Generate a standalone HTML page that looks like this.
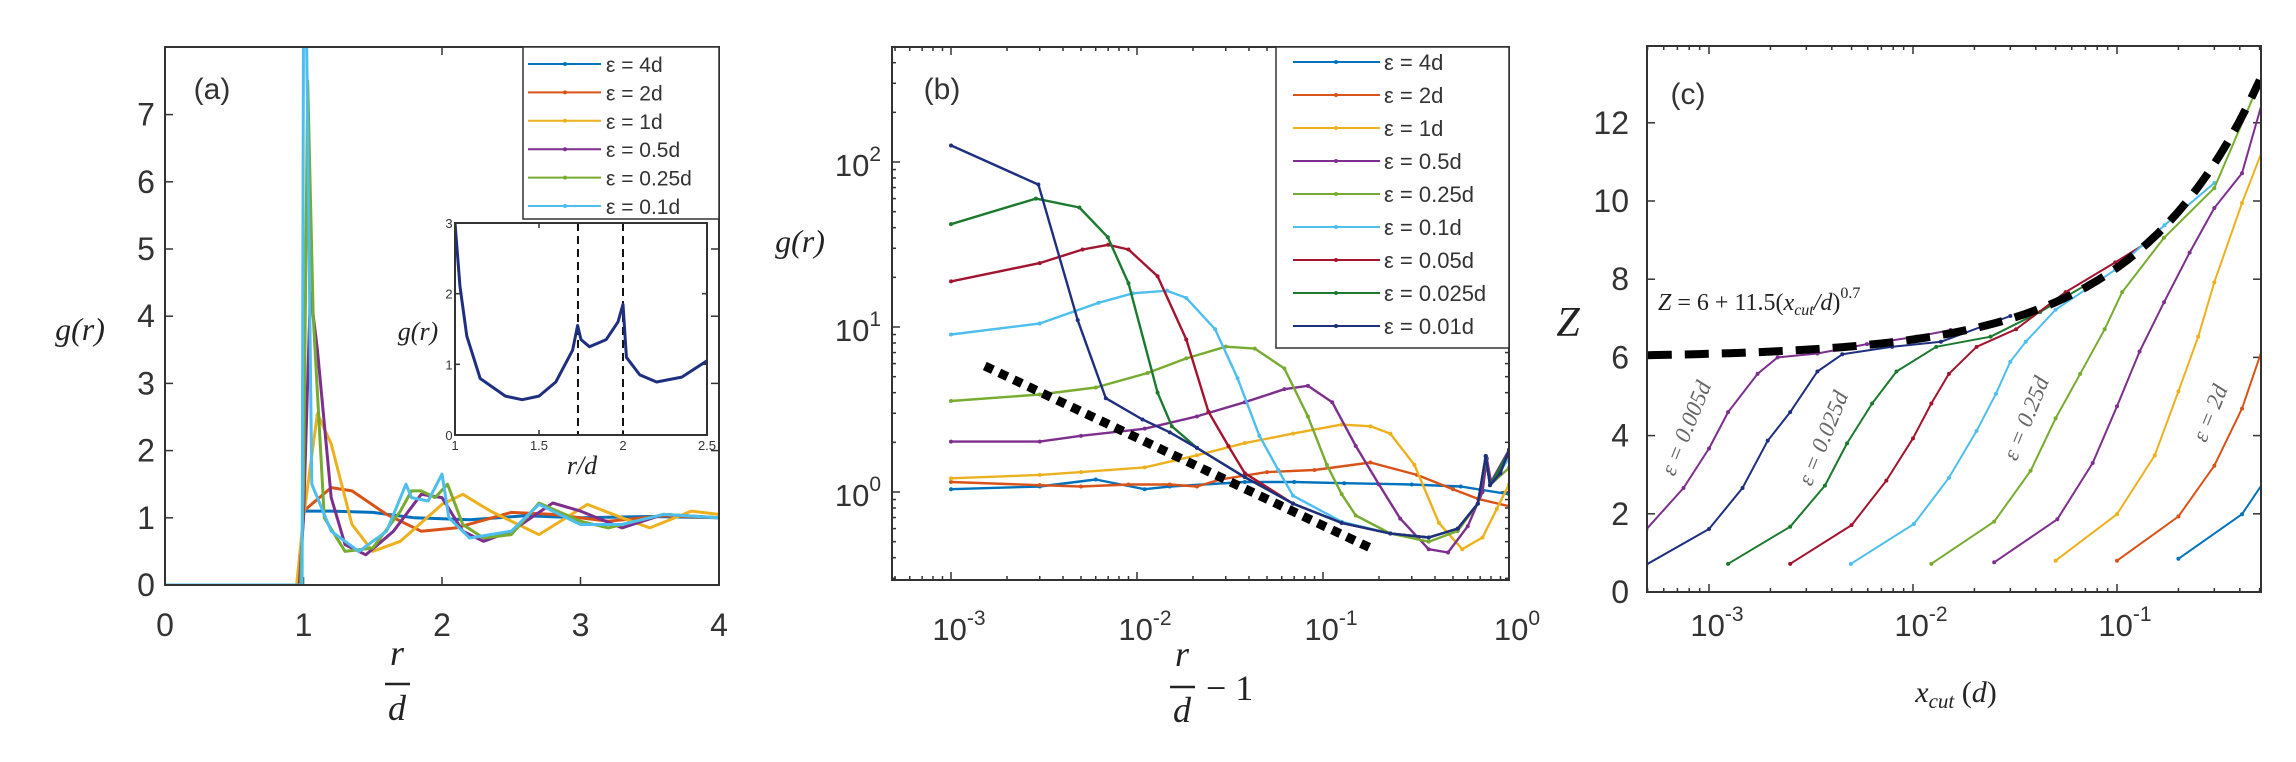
<!DOCTYPE html>
<html><head><meta charset="utf-8"><style>
html,body{margin:0;padding:0;background:#fff;}
svg{display:block;}
.tk{font-family:"Liberation Sans",sans-serif;fill:#333;}
.mt{font-family:"Liberation Serif",serif;font-style:italic;fill:#222;}
</style></head><body>
<svg id="fig" xmlns="http://www.w3.org/2000/svg" width="2296" height="762" viewBox="0 0 2296 762">
<rect width="2296" height="762" fill="#fff"/>
</svg>
<script>
// ---------- Panel (a) data ----------
const aLabels = ["ε = 4d","ε = 2d","ε = 1d","ε = 0.5d","ε = 0.25d","ε = 0.1d"];
const aColors = ["#0072BD","#D95319","#EDB120","#7E2F8E","#77AC30","#4DBEEE"];
const aS4d   = [[0,0],[0.97,0],[1.0,1.1],[1.2,1.1],[1.5,1.08],[1.8,1.0],[2.2,0.97],[2.6,1.03],[3.0,1.0],[3.5,1.02],[4,1.0]];
const aS2d   = [[0,0],[0.97,0],[1.0,1.1],[1.2,1.45],[1.35,1.4],[1.6,1.05],[1.85,0.8],[2.1,0.85],[2.5,1.08],[2.8,1.05],[3.2,0.95],[3.6,1.03],[4,1.0]];
const aS1d   = [[0,0],[0.95,0],[1.0,1.0],[1.1,2.55],[1.2,2.1],[1.35,0.9],[1.5,0.5],[1.7,0.65],[2.0,1.2],[2.15,1.35],[2.35,1.1],[2.7,0.75],[3.05,1.2],[3.3,1.0],[3.5,0.85],[3.8,1.1],[4,1.05]];
const aS05d  = [[0,0],[0.97,0],[1.0,1.0],[1.05,4.35],[1.1,3.5],[1.2,1.3],[1.3,0.6],[1.45,0.45],[1.65,0.8],[1.85,1.35],[2.0,1.3],[2.15,0.8],[2.3,0.65],[2.5,0.8],[2.8,1.22],[3.0,1.1],[3.3,0.85],[3.6,1.05],[4,1.0]];
const aS025d = [[0,0],[0.98,0],[1.0,1.5],[1.03,7.5],[1.07,4.0],[1.15,1.0],[1.3,0.5],[1.5,0.55],[1.7,1.1],[1.78,1.4],[1.85,1.4],[1.95,1.3],[2.04,1.5],[2.15,0.9],[2.3,0.7],[2.5,0.75],[2.7,1.22],[3.0,0.95],[3.2,0.85],[3.6,1.05],[4,1.0]];
const aS01d  = [[0,0],[0.99,0],[1.0,8.5],[1.02,8.5],[1.06,1.5],[1.2,0.8],[1.4,0.5],[1.6,0.8],[1.74,1.5],[1.78,1.3],[1.9,1.25],[2.0,1.65],[2.05,1.0],[2.2,0.7],[2.5,0.8],[2.7,1.2],[3.0,0.9],[3.3,0.9],[3.6,1.05],[4,1.0]];
const aSeries = [aS4d,aS2d,aS1d,aS05d,aS025d,aS01d];
const aXTicks = [0,1,2,3,4];
const aYTicks = [0,1,2,3,4,5,6,7];
const insetSeries = [[1.0,3.0],[1.03,2.1],[1.07,1.4],[1.15,0.8],[1.3,0.55],[1.4,0.5],[1.5,0.55],[1.6,0.75],[1.7,1.2],[1.73,1.55],[1.75,1.35],[1.8,1.25],[1.9,1.35],[1.97,1.6],[2.0,1.85],[2.02,1.1],[2.1,0.85],[2.2,0.75],[2.35,0.82],[2.5,1.05]];
const insetXTicks = [1,1.5,2,2.5];
const insetYTicks = [0,1,2,3];
const insetDashes = [1.732,2.0];
// ---------- Panel (b) data ----------
const bLabels = ["ε = 4d","ε = 2d","ε = 1d","ε = 0.5d","ε = 0.25d","ε = 0.1d","ε = 0.05d","ε = 0.025d","ε = 0.01d"];
const bColors = ["#0072BD","#D95319","#EDB120","#7E2F8E","#77AC30","#4DBEEE","#A2142F","#1B7A2E","#1F2F80"];
const bS4d   = [[1e-3,1.04],[3e-3,1.08],[6e-3,1.19],[1.1e-2,1.04],[1.5e-2,1.08],[3.8e-2,1.15],[7e-2,1.15],[0.13,1.13],[0.3,1.11],[0.55,1.08],[1.0,0.97]];
const bS2d   = [[1e-3,1.15],[3e-3,1.1],[5e-3,1.08],[9e-3,1.11],[1.5e-2,1.11],[2.1e-2,1.08],[2.8e-2,1.19],[5e-2,1.32],[9e-2,1.36],[0.18,1.51],[0.32,1.27],[0.5,1.04],[0.68,0.91],[1.0,0.82]];
const bS1d   = [[1e-3,1.21],[3e-3,1.27],[5e-3,1.32],[1.1e-2,1.41],[2.1e-2,1.67],[3.8e-2,1.98],[6.9e-2,2.26],[0.126,2.56],[0.18,2.5],[0.23,2.26],[0.31,1.46],[0.42,0.65],[0.56,0.45],[0.72,0.53],[0.86,0.79],[1.0,1.11]];
const bS05d  = [[1e-3,2.02],[3e-3,2.02],[5e-3,2.19],[1.1e-2,2.42],[2.1e-2,2.87],[3.8e-2,3.5],[6.2e-2,4.2],[8.3e-2,4.4],[0.112,3.5],[0.15,1.9],[0.2,1.11],[0.26,0.69],[0.37,0.45],[0.47,0.43],[0.6,0.62],[0.72,1.0],[0.76,1.6],[0.8,1.15],[1.0,1.8]];
const bS025d = [[1e-3,3.56],[3e-3,3.9],[6e-3,4.3],[1.14e-2,5.26],[1.84e-2,6.45],[3.0e-2,7.6],[4.3e-2,7.4],[6.2e-2,5.6],[8.3e-2,2.87],[0.105,1.46],[0.126,0.97],[0.15,0.72],[0.23,0.56],[0.37,0.5],[0.53,0.58],[0.68,0.85],[0.75,1.6],[0.79,1.1],[1.0,1.4]];
const bS01d  = [[1e-3,9.0],[3e-3,10.5],[6.2e-3,14],[9.5e-3,16],[1.45e-2,16.6],[1.84e-2,15],[2.63e-2,9.7],[3.47e-2,4.9],[4.55e-2,2.19],[5.75e-2,1.36],[6.9e-2,0.95],[0.126,0.66],[0.23,0.56],[0.37,0.53],[0.53,0.6],[0.68,0.85],[0.75,1.65],[0.79,1.1],[1.0,1.6]];
const bS005d = [[1e-3,18.9],[3e-3,24.4],[5.1e-3,29.5],[7e-3,31.5],[9e-3,29.5],[1.29e-2,20.3],[1.84e-2,8.4],[2.42e-2,3.07],[3.1e-2,1.9],[3.8e-2,1.3],[6.9e-2,0.85],[0.126,0.65],[0.23,0.56],[0.37,0.53],[0.53,0.6],[0.68,0.85],[0.75,1.65],[0.79,1.1],[1.0,1.7]];
const bS0025d= [[1e-3,42],[2.86e-3,60],[4.9e-3,53],[6.97e-3,35],[9e-3,18.4],[1.29e-2,4.0],[1.54e-2,2.5],[2.1e-2,1.85],[3.8e-2,1.23],[6.9e-2,0.85],[0.126,0.65],[0.23,0.56],[0.37,0.53],[0.53,0.6],[0.68,0.85],[0.75,1.65],[0.79,1.1],[1.0,1.75]];
const bS001d = [[1e-3,126],[2.95e-3,73],[4.8e-3,11],[6.8e-3,3.7],[1.07e-2,2.75],[1.5e-2,2.3],[2.1e-2,1.85],[3.8e-2,1.23],[6.9e-2,0.85],[0.126,0.65],[0.23,0.56],[0.37,0.53],[0.53,0.6],[0.68,0.85],[0.75,1.65],[0.79,1.1],[0.9,1.3],[1.0,1.8]];
const bSeries = [bS4d,bS2d,bS1d,bS05d,bS025d,bS01d,bS005d,bS0025d,bS001d];
const bGuide = [[1.52e-3,5.8],[0.183,0.454]];
const bXTickExp = [-3,-2,-1,0];
const bYTickExp = [0,1,2];
// ---------- Panel (c) data ----------
const cColors = ["#7E2F8E","#1F2F80","#1B7A2E","#A2142F","#4DBEEE","#77AC30","#7E2F8E","#EDB120","#D95319","#0072BD"];
const cS0005d = [[4.93e-4,1.6],[7.5e-4,2.66],[1e-3,3.67],[1.24e-3,4.6],[1.73e-3,5.58],[2.17e-3,6.0],[3.4e-3,6.1],[5.95e-3,6.34],[1.04e-2,6.53],[1.53e-2,6.7]];
const cS001d  = [[4.93e-4,0.7],[1e-3,1.61],[1.46e-3,2.66],[1.94e-3,3.87],[2.5e-3,4.6],[3.4e-3,5.64],[4.5e-3,6.08],[7.9e-3,6.27],[1.37e-2,6.4],[3.0e-2,7.06]];
const cS0025d = [[1.24e-3,0.72],[2.5e-3,1.67],[3.7e-3,2.72],[4.75e-3,3.8],[6.3e-3,4.82],[8.3e-3,5.64],[1.3e-2,6.27],[2.4e-2,6.53],[4.2e-2,7.16],[7.4e-2,7.92]];
const cS005d  = [[2.5e-3,0.72],[5e-3,1.71],[7.4e-3,2.85],[1.0e-2,3.93],[1.23e-2,4.82],[1.5e-2,5.58],[2.05e-2,6.27],[3.2e-2,6.72],[5.6e-2,7.67],[9.8e-2,8.43],[0.153,9.06]];
const cS01d   = [[4.96e-3,0.72],[1.01e-2,1.74],[1.5e-2,2.92],[2.05e-2,4.12],[2.55e-2,5.07],[3.0e-2,5.89],[3.57e-2,6.4],[5.0e-2,7.22],[9.8e-2,8.24],[0.171,9.38],[0.30,10.46]];
const cS025d  = [[1.23e-2,0.72],[2.5e-2,1.8],[3.77e-2,3.1],[5e-2,4.44],[6.6e-2,5.58],[8.7e-2,6.72],[0.106,7.67],[0.17,9.06],[0.30,10.33],[0.52,13.25]];
const cS05d   = [[2.5e-2,0.76],[5.1e-2,1.86],[7.6e-2,3.3],[0.1,4.75],[0.129,6.15],[0.17,7.41],[0.227,8.68],[0.30,9.82],[0.41,10.71],[0.52,12.6]];
const cS1d    = [[5e-2,0.8],[0.1,1.99],[0.153,3.49],[0.2,5.13],[0.25,6.53],[0.30,7.92],[0.41,9.95],[0.52,11.34]];
const cS2d    = [[0.1,0.8],[0.2,1.93],[0.3,3.23],[0.41,4.69],[0.52,6.27]];
const cS4d    = [[0.2,0.85],[0.41,1.99],[0.52,2.79]];
const cSeries = [cS0005d,cS001d,cS0025d,cS005d,cS01d,cS025d,cS05d,cS1d,cS2d,cS4d];
const cFitA = 6, cFitB = 11.5, cFitP = 0.7;
const cXTickExp = [-3,-2,-1];
const cYTicks = [0,2,4,6,8,10,12];

// ---------- scales ----------
const A={l:165,r:719,t:47,b:585};
const xa=v=>A.l+v*(A.r-A.l)/4;
const ya=v=>A.b-v*67.2;
const I={l:455,r:707,t:223,b:435};
const xi=v=>I.l+(v-1)*(I.r-I.l)/1.5;
const yi=v=>I.b-v*(I.b-I.t)/3;
const B={l:892,r:1509,t:47,b:580};
const xb=v=>951+(Math.log10(v)+3)*186;
const yb=v=>492-Math.log10(v)*165;
const C={l:1647,r:2261,t:46,b:592};
const xc=v=>1709+(Math.log10(v)+3)*204;
const yc=v=>C.b-v*39.1;

const NS='http://www.w3.org/2000/svg';
const svg=document.getElementById('fig');
function mk(tag,attrs,parent){const e=document.createElementNS(NS,tag);for(const k in attrs)e.setAttribute(k,attrs[k]);(parent||svg).appendChild(e);return e;}
function pathD(pts,fx,fy){return pts.map((p,i)=>(i?'L':'M')+fx(p[0]).toFixed(1)+','+fy(p[1]).toFixed(1)).join(' ');}
const defs=mk('defs',{});
function clip(id,R){const c=mk('clipPath',{id:id},defs);mk('rect',{x:R.l,y:R.t,width:R.r-R.l,height:R.b-R.t},c);}
clip('ca',A);clip('ci',I);clip('cb',B);clip('cc',C);

function box(R,name){const r=mk('rect',{x:R.l,y:R.t,width:R.r-R.l,height:R.b-R.t,fill:'none',stroke:'#333','stroke-width':2});

}
function tickX(R,x,len){mk('line',{x1:x,y1:R.b,x2:x,y2:R.b-len,stroke:'#333','stroke-width':1.5});mk('line',{x1:x,y1:R.t,x2:x,y2:R.t+len,stroke:'#333','stroke-width':1.5});}
function tickY(R,y,len){mk('line',{x1:R.l,y1:y,x2:R.l+len,y2:y,stroke:'#333','stroke-width':1.5});mk('line',{x1:R.r,y1:y,x2:R.r-len,y2:y,stroke:'#333','stroke-width':1.5});}
function txt(x,y,s,cls,size,anchor,name){const t=mk('text',{x:x,y:y,'class':cls,'font-size':size,'text-anchor':anchor||'middle'});t.textContent=s;


return t;}
function pow10(x,y,e,name){const t=mk('text',{x:x,y:y,'class':'tk','font-size':31,'text-anchor':'middle'});


const a=mk('tspan',{},t);a.textContent='10';const b=mk('tspan',{dy:-15,'font-size':21},t);b.textContent=String(e);}
function series(pts,fx,fy,color,w,clipId,name,dots){const g=mk('g',{'clip-path':'url(#'+clipId+')'});


mk('path',{d:pathD(pts,fx,fy),fill:'none',stroke:color,'stroke-width':w,'stroke-linejoin':'round'},g);
if(dots)pts.forEach(p=>mk('circle',{cx:fx(p[0]),cy:fy(p[1]),r:2,fill:color},g));}

// ===== Panel (a) =====
aXTicks.forEach(v=>{tickX(A,xa(v),8);txt(xa(v),636,String(v),'tk',32,'middle','x-tick-a-'+v);});
aYTicks.forEach(v=>{tickY(A,ya(v),8);txt(146,ya(v)+11,String(v),'tk',32,'middle','y-tick-a-'+v);});
aSeries.forEach((s,i)=>series(s,xa,ya,aColors[i],3,'ca','series-a-'+i,false));
box(A,'axes-a');
txt(212,99,'(a)','tk',30,'middle','panel-label-a');
txt(80,340,'g(r)','mt',32,'middle','y-axis-title-a');
txt(397,665,'r','mt',36,'middle','x-axis-title-a-num');
mk('line',{x1:385,y1:684,x2:410,y2:684,stroke:'#222','stroke-width':2.5});
txt(397,720,'d','mt',36,'middle','x-axis-title-a-den');
// legend a
const lga=mk('rect',{x:523,y:47,width:196,height:172,fill:'#fff',stroke:'#333','stroke-width':1.5});


aLabels.forEach((l,i)=>{const y=64+i*28.4;mk('line',{x1:528,y1:y,x2:601,y2:y,stroke:aColors[i],'stroke-width':2});mk('circle',{cx:565,cy:y,r:2,fill:aColors[i]});
txt(606,y+8,l,'tk',21,'start','legend-entry-a-'+i);});
// inset
const ib=mk('rect',{x:I.l,y:I.t,width:I.r-I.l,height:I.b-I.t,fill:'#fff'});


insetXTicks.forEach(v=>{tickX(I,xi(v),5);txt(xi(v),450,String(v),'tk',13,'middle','inset-x-tick-'+v);});
insetYTicks.forEach(v=>{tickY(I,yi(v),5);txt(449,yi(v)+5,String(v),'tk',13,'middle','inset-y-tick-'+v);});
insetDashes.forEach((v,i)=>{const d=mk('line',{x1:xi(v),y1:I.t,x2:xi(v),y2:I.b,stroke:'#111','stroke-width':2,'stroke-dasharray':'8,5'});

});
series(insetSeries,xi,yi,'#1F2F80',3,'ci','inset-series',false);
box(I,'inset-axes');
txt(582,474,'r/d','mt',26,'middle','inset-x-title');
txt(418,340,'g(r)','mt',26,'middle','inset-y-title');

// ===== Panel (b) =====
for(let e=-4;e<=0;e++){for(let m=1;m<10;m++){const v=m*Math.pow(10,e);const x=xb(v);if(x<B.l||x>B.r)continue;tickX(B,x,m===1?8:4);}}
for(let e=-1;e<=2;e++){for(let m=1;m<10;m++){const v=m*Math.pow(10,e);const y=yb(v);if(y<B.t||y>B.b)continue;tickY(B,y,m===1?8:4);}}
bXTickExp.forEach(e=>pow10(xb(Math.pow(10,e))+8,640,e,'x-tick-b-'+e));
bYTickExp.forEach(e=>pow10(B.l-34,yb(Math.pow(10,e))+14,e,'y-tick-b-'+e));
bSeries.forEach((s,i)=>series(s,xb,yb,bColors[i],2.4,'cb','series-b-'+i,true));
const gl=mk('path',{d:pathD(bGuide,xb,yb),stroke:'#000','stroke-width':9,'stroke-dasharray':'9,7',fill:'none'});


box(B,'axes-b');
txt(942,99,'(b)','tk',30,'middle','panel-label-b');
txt(800,252,'g(r)','mt',32,'middle','y-axis-title-b');
txt(1182,666,'r','mt',36,'middle','x-axis-title-b-num');
mk('line',{x1:1170,y1:687,x2:1195,y2:687,stroke:'#222','stroke-width':2.5});
txt(1182,722,'d','mt',36,'middle','x-axis-title-b-den');
const mn=txt(1206,700,'− 1','mt',36,'start','x-axis-title-b-minus');
mn.setAttribute('font-style','normal');
mn.style.fontStyle='normal';
const lgb=mk('rect',{x:1276,y:47,width:233,height:301,fill:'#fff',stroke:'#333','stroke-width':1.5});


bLabels.forEach((l,i)=>{const y=62+i*33;mk('line',{x1:1293,y1:y,x2:1380,y2:y,stroke:bColors[i],'stroke-width':2});mk('circle',{cx:1336,cy:y,r:2,fill:bColors[i]});
txt(1384,y+8,l,'tk',22,'start','legend-entry-b-'+i);});

// ===== Panel (c) =====
for(let e=-4;e<=0;e++){for(let m=1;m<10;m++){const v=m*Math.pow(10,e);const x=xc(v);if(x<C.l||x>C.r)continue;tickX(C,x,m===1?8:4);}}
cYTicks.forEach(v=>{tickY(C,yc(v),8);txt(C.l-18,yc(v)+11,String(v),'tk',32,'end','y-tick-c-'+v);});
cXTickExp.forEach(e=>pow10(xc(Math.pow(10,e))+8,636,e,'x-tick-c-'+e));
cSeries.forEach((s,i)=>series(s,xc,yc,cColors[i],2,'cc','series-c-'+i,true));
const fit=[];for(let k=0;k<=60;k++){const lx=-3.3+k*(3.0/60);const x=Math.pow(10,lx);fit.push([x,cFitA+cFitB*Math.pow(x,cFitP)]);}
const fp=mk('path',{d:pathD(fit,xc,yc),stroke:'#000','stroke-width':8,'stroke-dasharray':'24,13',fill:'none','clip-path':'url(#cc)'});


box(C,'axes-c');
txt(1688,104,'(c)','tk',30,'middle','panel-label-c');
const ft=mk('text',{x:1658,y:310,'class':'mt','font-size':24});


ft.innerHTML='<tspan font-style="italic">Z</tspan><tspan font-style="normal"> = 6 + 11.5(</tspan>x<tspan font-size="16" dy="5">cut</tspan><tspan dy="-5">/d</tspan><tspan font-style="normal">)</tspan><tspan font-size="16" dy="-12" font-style="normal">0.7</tspan>';
txt(1568,336,'Z','mt',42,'middle','y-axis-title-c');
const xl=mk('text',{x:1956,y:702,'class':'mt','font-size':30,'text-anchor':'middle'});


xl.innerHTML='x<tspan font-size="21" dy="6">cut</tspan><tspan dy="-6" font-style="normal"> (</tspan>d<tspan font-style="normal">)</tspan>';
[['ε = 0.005d',1693,431],['ε = 0.025d',1830,441],['ε = 0.25d',2033,421],['ε = 2d',2217,416]].forEach((a,i)=>{
const t=mk('text',{x:a[1],y:a[2],'class':'mt','font-size':23,'text-anchor':'middle',transform:'rotate(-68 '+a[1]+' '+a[2]+')'});


t.textContent=a[0];t.style.fill='#666';});
</script>
</body></html>
